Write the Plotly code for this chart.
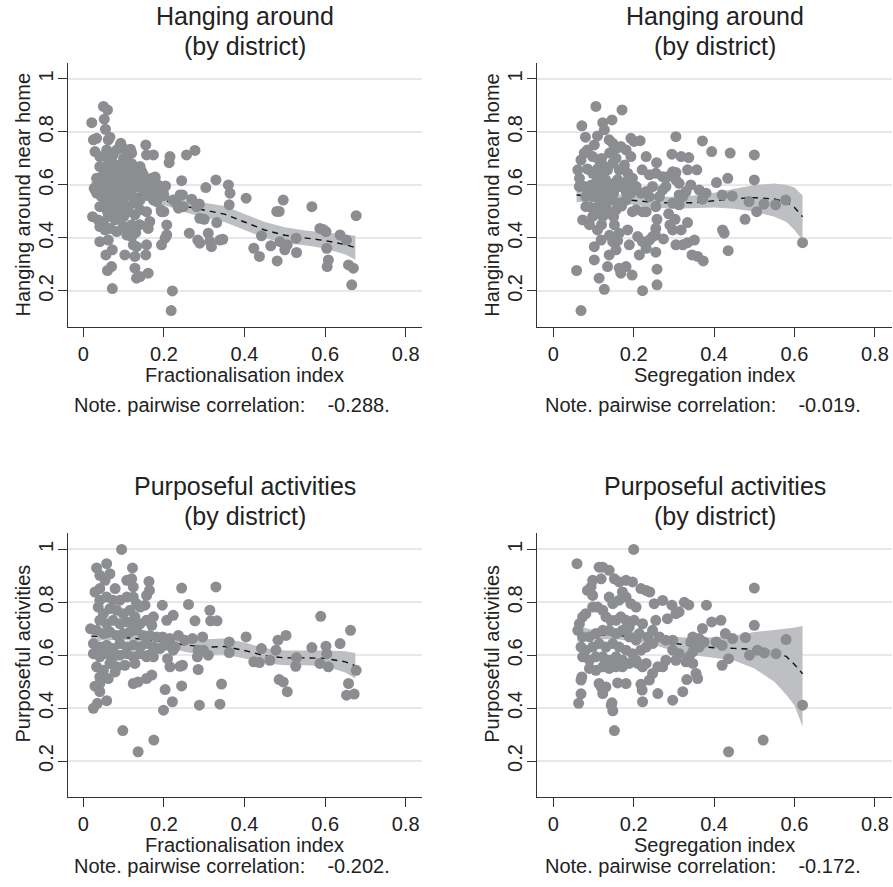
import plotly.graph_objects as go

# ---------------- data ----------------
# Panel 1: Hanging around vs Fractionalisation index
p1_x = [0.021,0.05,0.06,0.052,0.055,0.025,0.033,0.066,0.062,0.023,0.027,0.041,0.056,0.06,0.072,0.072,0.062,0.103,0.108,0.12,
        0.128,0.132,0.141,0.161,0.155,0.128,0.124,0.132,0.157,0.161,0.165,0.157,0.194,0.203,0.207,0.207,0.2,0.194,0.193,0.221,
        0.218,0.215,0.213,0.204,0.198,0.155,0.157,0.174,0.244,0.256,0.277,0.24,0.246,0.236,0.248,0.263,0.269,0.281,0.288,0.289,
        0.3,0.284,0.289,0.304,0.31,0.314,0.318,0.329,0.331,0.339,0.346,0.36,0.364,0.362,0.404,0.423,0.437,0.442,0.465,0.48,
        0.486,0.481,0.488,0.496,0.5,0.506,0.528,0.529,0.567,0.587,0.595,0.602,0.604,0.608,0.605,0.637,0.653,0.658,0.67,0.666,
        0.677,
        0.029,0.041,0.058,0.074,0.083,0.091,0.099,0.093,0.108,0.117,0.12,0.141,0.132,0.145,0.041,0.058,0.074,0.087,0.103,0.033,
        0.045,0.066,0.083,0.099,0.112,0.124,0.136,0.149,0.161,0.174,0.178,0.165,0.174,0.182,0.17,0.033,0.045,0.058,0.074,0.087,
        0.103,0.116,0.132,0.145,0.157,0.041,0.054,0.066,0.079,0.091,0.108,0.124,0.141,0.037,0.05,0.062,0.079,0.091,0.112,0.128,
        0.141,0.041,0.054,0.066,0.083,0.099,0.116,0.07,
        0.05,0.06,0.07,0.08,0.09,0.1,0.11,0.12,0.13,0.06,0.07,0.08,0.09,0.1,0.11,0.12,0.13,0.05,0.04,0.03,
        0.06,0.07,0.1,0.11,0.12,0.15,0.16,0.17,0.09,0.1,0.06,0.07,0.12,0.13,0.14,0.12,0.085,0.095,
        0.17,0.178,0.19,0.2,0.185,0.223,0.232]
p1_y = [0.835,0.896,0.883,0.848,0.81,0.77,0.776,0.78,0.77,0.48,0.587,0.386,0.336,0.277,0.209,0.355,0.392,0.336,0.411,0.405,
        0.286,0.248,0.254,0.267,0.336,0.33,0.374,0.367,0.374,0.436,0.462,0.499,0.374,0.399,0.411,0.449,0.499,0.499,0.506,0.2,
        0.126,0.707,0.684,0.596,0.575,0.751,0.713,0.713,0.616,0.713,0.73,0.562,0.562,0.512,0.518,0.418,0.546,0.518,0.528,0.474,
        0.47,0.392,0.38,0.59,0.418,0.387,0.367,0.619,0.458,0.392,0.395,0.6,0.569,0.525,0.55,0.361,0.33,0.408,0.37,0.5,
        0.5,0.313,0.386,0.543,0.355,0.374,0.399,0.345,0.518,0.436,0.432,0.424,0.361,0.317,0.292,0.411,0.392,0.298,0.286,0.223,
        0.484,
        0.726,0.707,0.732,0.713,0.732,0.745,0.738,0.757,0.726,0.735,0.72,0.669,0.657,0.65,0.669,0.669,0.657,0.675,0.669,0.625,
        0.619,0.625,0.631,0.631,0.638,0.644,0.619,0.638,0.606,0.613,0.625,0.575,0.543,0.537,0.556,0.569,0.556,0.569,0.575,0.556,
        0.569,0.575,0.594,0.587,0.569,0.518,0.531,0.512,0.531,0.543,0.518,0.531,0.543,0.468,0.455,0.481,0.468,0.481,0.499,0.487,
        0.506,0.443,0.43,0.436,0.424,0.443,0.443,0.292,
        0.6,0.64,0.6,0.59,0.6,0.61,0.6,0.6,0.62,0.58,0.55,0.62,0.65,0.55,0.66,0.56,0.55,0.64,0.6,0.59,
        0.7,0.69,0.7,0.71,0.68,0.6,0.56,0.59,0.5,0.48,0.5,0.52,0.45,0.42,0.45,0.41,0.5,0.52,
        0.625,0.63,0.57,0.56,0.6,0.543,0.53]
p1_fit_x = [0.02,0.05,0.1,0.15,0.2,0.25,0.3,0.35,0.4,0.45,0.5,0.55,0.6,0.65,0.675]
p1_fit_y = [0.59,0.585,0.577,0.56,0.542,0.52,0.505,0.49,0.46,0.43,0.41,0.4,0.39,0.375,0.363]
p1_lo = [0.565,0.57,0.565,0.546,0.524,0.498,0.477,0.46,0.43,0.4,0.38,0.372,0.36,0.337,0.318]
p1_hi = [0.615,0.6,0.589,0.574,0.56,0.542,0.533,0.52,0.49,0.46,0.44,0.428,0.42,0.413,0.408]

# Panel 2: Hanging around vs Segregation index
p2_x = [0.058,0.069,0.071,0.08,0.073,0.102,0.102,0.114,0.127,0.106,0.11,0.123,0.127,0.146,0.171,0.139,0.148,0.102,0.168,0.181,
        0.193,0.201,0.216,0.193,0.231,0.257,0.221,0.239,0.255,0.272,0.295,0.305,0.318,0.337,0.334,0.357,0.371,0.394,0.44,0.5,
        0.5,0.434,0.406,0.42,0.445,0.421,0.425,0.435,0.477,0.487,0.506,0.524,0.553,0.578,0.62,0.363,0.38,0.371,0.313,0.33,
        0.342,0.305,0.297,0.284,0.28,0.272,0.305,0.313,0.322,0.313,0.297,0.287,0.303,0.29,0.297,0.318,0.334,0.305,0.322,0.334,
        0.351,0.345,0.359,0.373,0.274,0.255,0.258,0.254,0.255,0.258,0.258,0.222,0.231,0.214,0.21,0.222,0.239,0.247,0.197,0.206,
        0.222,0.231,0.185,0.189,0.196,0.181,0.168,0.164,0.135,0.139,0.156,0.148,0.164,0.152,0.123,0.131,0.11,0.119,0.098,0.09,
        0.081,0.065,0.061,0.069,0.077,0.085,0.098,0.114,0.127,0.098,0.11,0.123,0.135,0.148,0.156,0.164,0.177,0.185,0.197,0.206,
        0.193,0.181,0.164,0.152,0.139,0.123,0.106,0.09,0.077,0.065,0.081,0.098,0.114,0.131,0.148,0.164,0.181,0.156,0.139,0.114,
        0.102,0.247,0.239,0.264,0.255,0.218,0.231,
        0.1,0.12,0.13,0.14,0.15,0.16,0.17,0.18,0.19,0.11,0.12,0.14,0.16,0.13,0.15,0.17,0.12,0.09,0.14,0.16,0.085,0.095]
p2_y = [0.277,0.126,0.823,0.78,0.468,0.367,0.317,0.248,0.206,0.896,0.785,0.835,0.808,0.845,0.883,0.77,0.757,0.751,0.745,0.732,
        0.776,0.764,0.767,0.707,0.707,0.684,0.657,0.638,0.644,0.631,0.716,0.782,0.707,0.703,0.657,0.657,0.766,0.726,0.72,0.713,
        0.619,0.625,0.609,0.562,0.558,0.43,0.418,0.352,0.47,0.537,0.499,0.528,0.525,0.543,0.382,0.581,0.569,0.546,0.562,0.575,
        0.6,0.647,0.65,0.631,0.594,0.581,0.619,0.606,0.556,0.525,0.531,0.491,0.47,0.449,0.43,0.43,0.458,0.374,0.374,0.382,
        0.392,0.336,0.33,0.313,0.396,0.436,0.47,0.411,0.346,0.282,0.223,0.201,0.361,0.336,0.405,0.386,0.392,0.405,0.499,0.506,
        0.499,0.499,0.43,0.374,0.26,0.292,0.267,0.286,0.292,0.336,0.355,0.386,0.418,0.449,0.481,0.518,0.43,0.392,0.481,0.518,
        0.518,0.625,0.657,0.694,0.72,0.732,0.707,0.694,0.669,0.644,0.619,0.631,0.657,0.682,0.701,0.657,0.675,0.644,0.625,0.594,
        0.569,0.575,0.594,0.606,0.581,0.594,0.575,0.581,0.594,0.594,0.556,0.556,0.543,0.556,0.543,0.531,0.543,0.506,0.493,0.506,
        0.512,0.594,0.556,0.556,0.518,0.569,0.575,
        0.6,0.56,0.62,0.6,0.57,0.62,0.6,0.61,0.59,0.66,0.7,0.72,0.74,0.52,0.48,0.52,0.45,0.45,0.41,0.39,0.66,0.6]
p2_fit_x = [0.058,0.1,0.15,0.2,0.25,0.3,0.35,0.4,0.45,0.5,0.55,0.58,0.6,0.62]
p2_fit_y = [0.562,0.556,0.548,0.54,0.534,0.532,0.533,0.54,0.548,0.552,0.547,0.535,0.515,0.48]
p2_lo = [0.535,0.54,0.535,0.525,0.515,0.51,0.512,0.515,0.51,0.5,0.48,0.46,0.43,0.39]
p2_hi = [0.59,0.575,0.565,0.56,0.555,0.555,0.56,0.57,0.585,0.6,0.605,0.6,0.59,0.56]

# Panel 3: Purposeful activities vs Fractionalisation index
p3_x = [0.095,0.025,0.035,0.029,0.041,0.058,0.098,0.136,0.175,0.124,0.136,0.157,0.17,0.199,0.203,0.221,0.244,0.288,0.339,0.343,
        0.24,0.246,0.215,0.209,0.223,0.244,0.261,0.277,0.314,0.329,0.316,0.332,0.196,0.207,0.223,0.236,0.252,0.271,0.285,0.283,
        0.296,0.298,0.31,0.285,0.362,0.362,0.404,0.423,0.437,0.442,0.463,0.478,0.483,0.503,0.486,0.496,0.506,0.529,0.527,0.567,
        0.589,0.587,0.602,0.604,0.608,0.637,0.663,0.658,0.653,0.672,0.677,0.197,0.215,0.205,0.228,
        0.033,0.058,0.041,0.054,0.066,0.029,0.041,0.079,0.108,0.122,0.12,0.124,0.163,0.164,0.157,0.153,0.132,0.124,0.108,0.091,
        0.074,0.058,0.041,0.037,0.05,0.066,0.083,0.099,0.116,0.128,0.141,0.041,0.058,0.074,0.091,0.108,0.124,0.141,0.157,0.174,
        0.17,0.018,0.033,0.05,0.066,0.083,0.099,0.116,0.132,0.149,0.165,0.182,0.025,0.041,0.058,0.074,0.091,0.108,0.124,0.141,
        0.157,0.174,0.19,0.025,0.041,0.058,0.074,0.091,0.108,0.124,0.141,0.157,0.17,0.033,0.05,0.066,0.083,0.103,0.128,0.161,
        0.174,0.041,0.062,0.079,0.041]
p3_y = [1.0,0.399,0.418,0.483,0.462,0.428,0.315,0.235,0.279,0.493,0.499,0.512,0.525,0.392,0.47,0.424,0.484,0.411,0.415,0.491,
        0.558,0.562,0.556,0.587,0.619,0.854,0.792,0.73,0.77,0.858,0.73,0.73,0.789,0.732,0.751,0.675,0.657,0.663,0.619,0.594,
        0.669,0.619,0.6,0.546,0.65,0.61,0.669,0.575,0.572,0.625,0.581,0.619,0.657,0.675,0.508,0.499,0.462,0.591,0.558,0.629,
        0.747,0.569,0.634,0.606,0.556,0.644,0.694,0.493,0.449,0.453,0.543,0.669,0.663,0.638,0.631,
        0.93,0.946,0.902,0.883,0.908,0.839,0.852,0.852,0.883,0.93,0.889,0.858,0.879,0.845,0.826,0.789,0.795,0.82,0.82,0.808,
        0.808,0.82,0.808,0.782,0.757,0.776,0.77,0.757,0.77,0.745,0.782,0.732,0.719,0.732,0.719,0.726,0.713,0.719,0.732,0.745,
        0.713,0.7,0.694,0.682,0.688,0.675,0.682,0.688,0.694,0.675,0.675,0.669,0.644,0.631,0.638,0.625,0.644,0.631,0.638,0.631,
        0.644,0.631,0.625,0.606,0.594,0.606,0.594,0.6,0.606,0.594,0.606,0.594,0.606,0.556,0.543,0.569,0.556,0.562,0.569,0.6,
        0.594,0.518,0.512,0.537,0.493]
p3_fit_x = [0.02,0.05,0.1,0.15,0.2,0.25,0.3,0.35,0.4,0.45,0.5,0.55,0.6,0.65,0.675]
p3_fit_y = [0.672,0.67,0.668,0.66,0.65,0.638,0.63,0.633,0.618,0.598,0.59,0.59,0.588,0.575,0.56]
p3_lo = [0.647,0.658,0.658,0.648,0.635,0.613,0.6,0.603,0.588,0.57,0.562,0.562,0.558,0.535,0.512]
p3_hi = [0.697,0.682,0.678,0.672,0.665,0.663,0.66,0.663,0.648,0.626,0.618,0.618,0.618,0.615,0.608]

# Panel 4: Purposeful activities vs Segregation index
p4_x = [0.2,0.059,0.063,0.069,0.071,0.069,0.152,0.148,0.144,0.146,0.123,0.119,0.114,0.131,0.16,0.181,0.218,0.221,0.222,0.26,
        0.297,0.322,0.332,0.359,0.436,0.522,0.62,0.5,0.5,0.478,0.488,0.508,0.525,0.554,0.579,0.446,0.428,0.42,0.42,0.436,
        0.417,0.394,0.381,0.371,0.405,0.375,0.363,0.347,0.342,
        0.326,0.337,0.295,0.313,0.305,0.284,0.272,0.251,0.24,0.231,0.218,0.197,0.181,0.164,0.152,0.139,0.123,0.114,0.098,0.094,
        0.085,0.098,0.119,
        0.363,0.347,0.338,0.347,0.355,0.33,0.313,0.305,0.297,0.28,0.272,0.26,0.247,0.239,0.231,0.222,0.21,0.218,0.231,0.247,
        0.264,0.28,0.297,
        0.255,0.247,0.235,0.222,0.214,0.201,0.189,0.181,0.168,0.156,0.143,0.131,0.123,0.11,0.098,0.081,0.073,0.065,0.061,
        0.073,0.09,0.106,0.123,0.139,0.156,0.172,0.189,0.206,
        0.069,0.081,0.098,0.114,0.131,0.148,0.164,0.181,0.197,
        0.073,0.09,0.106,0.123,0.139,0.156,0.172,0.189,0.206,
        0.09,0.106,0.123,0.139,0.156,0.172,
        0.164,0.181,0.193,0.206,0.148,0.139,0.172]
p4_y = [1.0,0.946,0.418,0.506,0.518,0.454,0.315,0.39,0.411,0.42,0.455,0.48,0.493,0.48,0.495,0.493,0.49,0.468,0.424,0.455,
        0.43,0.462,0.508,0.512,0.235,0.279,0.411,0.854,0.713,0.667,0.6,0.619,0.609,0.606,0.659,0.663,0.682,0.637,0.562,0.587,
        0.732,0.726,0.789,0.701,0.65,0.65,0.663,0.669,0.65,
        0.8,0.79,0.789,0.764,0.757,0.738,0.807,0.795,0.839,0.845,0.852,0.877,0.883,0.877,0.889,0.921,0.933,0.933,0.883,0.858,
        0.845,0.826,0.889,
        0.631,0.613,0.594,0.569,0.531,0.575,0.606,0.581,0.619,0.581,0.556,0.556,0.531,0.506,0.569,0.556,0.569,0.619,0.631,0.644,
        0.669,0.657,0.657,
        0.732,0.694,0.669,0.719,0.682,0.732,0.707,0.732,0.745,0.732,0.732,0.745,0.77,0.782,0.782,0.757,0.745,0.719,0.694,
        0.669,0.669,0.682,0.694,0.694,0.682,0.694,0.669,0.657,
        0.631,0.619,0.631,0.644,0.631,0.644,0.631,0.619,0.606,
        0.594,0.581,0.594,0.594,0.581,0.594,0.581,0.569,0.581,
        0.55,0.543,0.556,0.55,0.556,0.556,
        0.808,0.82,0.795,0.782,0.795,0.82,0.839]
p4_fit_x = [0.06,0.1,0.15,0.2,0.25,0.3,0.35,0.4,0.45,0.5,0.55,0.58,0.6,0.62]
p4_fit_y = [0.68,0.678,0.676,0.672,0.66,0.645,0.635,0.628,0.626,0.622,0.615,0.595,0.565,0.53]
p4_lo = [0.65,0.66,0.66,0.655,0.64,0.615,0.6,0.59,0.58,0.55,0.5,0.45,0.41,0.33]
p4_hi = [0.71,0.695,0.69,0.69,0.68,0.67,0.665,0.668,0.675,0.688,0.695,0.7,0.705,0.71]

titles = ["Hanging around", "Hanging around", "Purposeful activities", "Purposeful activities"]
subtitle = "(by district)"
ytitles = ["Hanging around near home", "Hanging around near home", "Purposeful activities", "Purposeful activities"]
xtitles = ["Fractionalisation index", "Segregation index", "Fractionalisation index", "Segregation index"]
correlations = ["-0.288", "-0.019", "-0.202", "-0.172"]
x_tickvals = [0, 0.2, 0.4, 0.6, 0.8]
x_ticktext = ["0", "0.2", "0.4", "0.6", "0.8"]
y_tickvals = [0.2, 0.4, 0.6, 0.8, 1]
y_ticktext = ["0.2", "0.4", "0.6", "0.8", "1"]

panels = [
    (p1_x, p1_y, p1_fit_x, p1_fit_y, p1_lo, p1_hi),
    (p2_x, p2_y, p2_fit_x, p2_fit_y, p2_lo, p2_hi),
    (p3_x, p3_y, p3_fit_x, p3_fit_y, p3_lo, p3_hi),
    (p4_x, p4_y, p4_fit_x, p4_fit_y, p4_lo, p4_hi),
]

# ---------------- layout geometry ----------------
W, H = 893, 887
FONT = "Liberation Sans, Arial, Helvetica, sans-serif"
TXT = "#222222"
AX = "#333333"
POINT = "#8c8d91"
BAND = "#bebfc2"

col_px = [(67.7, 422.0), (537.0, 892.0)]
row_px = [(63.0, 326.7), (533.3, 796.7)]
x_ranges = [[-0.0387, 0.8403], [-0.0405, 0.8425]]
y_ranges = [[0.065, 1.060], [0.065, 1.061]]

fig = go.Figure()
annotations = []

for i, (px, py, fx, fy, lo, hi) in enumerate(panels):
    r, c = divmod(i, 2)
    sfx = "" if i == 0 else str(i + 1)
    xa, ya = "x" + sfx, "y" + sfx

    # confidence band, then fitted line, then points on top
    fig.add_trace(go.Scatter(x=fx + fx[::-1], y=hi + lo[::-1], fill="toself",
                             fillcolor=BAND, line=dict(width=0), mode="lines",
                             hoverinfo="skip", showlegend=False, xaxis=xa, yaxis=ya))
    fig.add_trace(go.Scatter(x=fx, y=fy, mode="lines",
                             line=dict(color="#111111", width=1.4, dash="6px,5px"),
                             showlegend=False, xaxis=xa, yaxis=ya))
    fig.add_trace(go.Scatter(x=px, y=py, mode="markers",
                             marker=dict(color=POINT, size=11, line=dict(width=0)),
                             showlegend=False, xaxis=xa, yaxis=ya))

    x0, x1 = col_px[c]
    y0, y1 = row_px[r]
    xdom = [x0 / W, x1 / W]
    ydom = [1 - y1 / H, 1 - y0 / H]
    fig.layout["xaxis" + sfx] = dict(
        domain=xdom, range=x_ranges[c], anchor=ya, showgrid=False, zeroline=False,
        showline=True, linecolor=AX, linewidth=1.3, ticks="outside", ticklen=9,
        tickcolor=AX, tickwidth=1.3, tickvals=x_tickvals, ticktext=x_ticktext,
        tickfont=dict(family=FONT, size=20, color=TXT), automargin=False)
    fig.layout["yaxis" + sfx] = dict(
        domain=ydom, range=y_ranges[r], anchor=xa, showgrid=True, gridcolor="#e8e8e8",
        gridwidth=2, zeroline=False, showline=True, linecolor=AX, linewidth=1.3,
        ticks="outside", ticklen=9, tickcolor=AX, tickwidth=1.3, tickangle=-90,
        ticklabelstandoff=-3,
        tickvals=y_tickvals, ticktext=y_ticktext,
        tickfont=dict(family=FONT, size=20, color=TXT), automargin=False)

    cx = (x0 + x1) / 2
    off = 0 if r == 0 else 470
    annotations.append(dict(text=titles[i], x=cx / W, y=1 - (16 + off) / H, xref="paper", yref="paper",
                            xanchor="center", yanchor="middle", showarrow=False,
                            font=dict(family=FONT, size=25, color=TXT)))
    annotations.append(dict(text=subtitle, x=cx / W, y=1 - (45.5 + off) / H, xref="paper", yref="paper",
                            xanchor="center", yanchor="middle", showarrow=False,
                            font=dict(family=FONT, size=25, color=TXT)))
    annotations.append(dict(text=xtitles[i], x=cx / W, y=1 - (374.7 + off) / H, xref="paper", yref="paper",
                            xanchor="center", yanchor="middle", showarrow=False,
                            font=dict(family=FONT, size=20, color=TXT)))
    note_y = 404.7 if r == 0 else 866.0
    note_x = 72.0 if c == 0 else 542.7
    annotations.append(dict(text="Note. pairwise correlation:" + "\u00a0" * 4 + correlations[i] + ".",
                            x=note_x / W, y=1 - note_y / H, xref="paper", yref="paper",
                            xanchor="left", yanchor="middle", showarrow=False,
                            font=dict(family=FONT, size=20, color=TXT)))
    ycen = 195 if r == 0 else 654
    ytx = 22.5 if c == 0 else 22.5 + 469.3
    annotations.append(dict(text=ytitles[i], x=ytx / W, y=1 - ycen / H, xref="paper", yref="paper",
                            xanchor="center", yanchor="middle", textangle=-90, showarrow=False,
                            font=dict(family=FONT, size=20, color=TXT)))

fig.update_layout(width=W, height=H, margin=dict(l=0, r=0, t=0, b=0, autoexpand=False),
                  paper_bgcolor="white", plot_bgcolor="white",
                  annotations=annotations, showlegend=False)

fig.write_html("out.html", config={"displayModeBar": False},
               post_script="document.body.style.margin='0';document.body.style.padding='0';"
                           "document.documentElement.style.overflow='hidden';")
